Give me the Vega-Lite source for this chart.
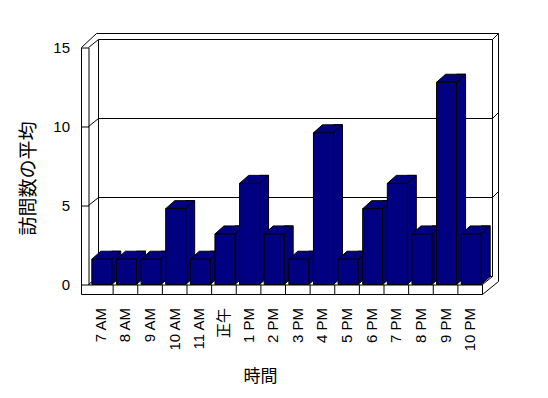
{
  "$schema": "https://vega.github.io/schema/vega-lite/v6.json",
  "width": 394,
  "height": 237,
  "autosize": "none",
  "padding": {"left": 88.5, "top": 47.5, "right": 65.5, "bottom": 113.5},
  "background": "white",
  "config": {
    "view": {"stroke": null},
    "axis": {
      "labelFont": "Liberation Sans, Noto Sans CJK JP",
      "labelFontSize": 15,
      "labelColor": "black",
      "titleFont": "Noto Sans CJK JP",
      "titleFontWeight": "normal",
      "titleColor": "black",
      "domainColor": "black",
      "tickColor": "black",
      "grid": false
    }
  },
  "resolve": {"scale": {"x": "independent"}},
  "layer": [
    {
      "data": {"values": [{}]},
      "layer": [
        {
          "data": {"values": [{"v": 0}, {"v": 5}, {"v": 10}, {"v": 15}]},
          "mark": {"type": "rule", "color": "black", "xOffset": 10, "x2Offset": 10, "yOffset": -8},
          "encoding": {
            "x": {"datum": 0, "type": "quantitative", "scale": {"domain": [0, 16]}, "axis": null},
            "x2": {"datum": 16},
            "y": {"field": "v", "type": "quantitative"}
          }
        },
        {
          "data": {"values": [{"v": 0}, {"v": 5}, {"v": 10}, {"v": 15}]},
          "mark": {"type": "rule", "color": "black", "x2Offset": 10, "y2Offset": -8},
          "encoding": {
            "x": {"datum": 0, "type": "quantitative", "scale": {"domain": [0, 16]}, "axis": null},
            "x2": {"datum": 0},
            "y": {"field": "v", "type": "quantitative"},
            "y2": {"field": "v"}
          }
        },
        {
          "data": {"values": [{"v": 5}, {"v": 10}, {"v": 15}]},
          "mark": {"type": "rule", "color": "black", "xOffset": 10, "yOffset": -8, "x2Offset": 16, "y2Offset": -14},
          "encoding": {
            "x": {"datum": 16, "type": "quantitative", "scale": {"domain": [0, 16]}, "axis": null},
            "x2": {"datum": 16},
            "y": {"field": "v", "type": "quantitative"},
            "y2": {"field": "v"}
          }
        },
        {
          "mark": {"type": "rule", "color": "black", "xOffset": 10, "yOffset": -8, "y2Offset": -8},
          "encoding": {
            "x": {"datum": 0, "type": "quantitative", "scale": {"domain": [0, 16]}, "axis": null},
            "y": {"datum": 0, "type": "quantitative"},
            "y2": {"datum": 15}
          }
        },
        {
          "mark": {"type": "rule", "color": "black", "xOffset": 10, "yOffset": -8, "y2Offset": -8},
          "encoding": {
            "x": {"datum": 16, "type": "quantitative", "scale": {"domain": [0, 16]}, "axis": null},
            "y": {"datum": 0, "type": "quantitative"},
            "y2": {"datum": 15}
          }
        },
        {
          "mark": {"type": "rule", "color": "black", "xOffset": 16, "yOffset": -3, "y2Offset": -14},
          "encoding": {
            "x": {"datum": 16, "type": "quantitative", "scale": {"domain": [0, 16]}, "axis": null},
            "y": {"datum": 0, "type": "quantitative"},
            "y2": {"datum": 15}
          }
        },
        {
          "mark": {"type": "rule", "color": "black", "xOffset": 8, "x2Offset": 16, "yOffset": -14},
          "encoding": {
            "x": {"datum": 0, "type": "quantitative", "scale": {"domain": [0, 16]}, "axis": null},
            "x2": {"datum": 16},
            "y": {"datum": 15, "type": "quantitative"}
          }
        },
        {
          "mark": {"type": "rule", "color": "black", "xOffset": -7, "x2Offset": 8, "y2Offset": -14},
          "encoding": {
            "x": {"datum": 0, "type": "quantitative", "scale": {"domain": [0, 16]}, "axis": null},
            "x2": {"datum": 0},
            "y": {"datum": 15, "type": "quantitative"},
            "y2": {"datum": 15}
          }
        },
        {
          "mark": {"type": "rule", "color": "black", "xOffset": -7, "yOffset": 10},
          "encoding": {
            "x": {"datum": 0, "type": "quantitative", "scale": {"domain": [0, 16]}, "axis": null},
            "y": {"datum": 0, "type": "quantitative"},
            "y2": {"datum": 15}
          }
        },
        {
          "mark": {"type": "rule", "color": "black", "xOffset": -7, "yOffset": 10},
          "encoding": {
            "x": {"datum": 0, "type": "quantitative", "scale": {"domain": [0, 16]}, "axis": null},
            "x2": {"datum": 16},
            "y": {"datum": 0, "type": "quantitative"}
          }
        },
        {
          "data": {"values": [{"k": 1}, {"k": 2}, {"k": 3}, {"k": 4}, {"k": 5}, {"k": 6}, {"k": 7}, {"k": 8}, {"k": 9}, {"k": 10}, {"k": 11}, {"k": 12}, {"k": 13}, {"k": 14}, {"k": 15}, {"k": 16}]},
          "mark": {"type": "rule", "color": "black", "y2Offset": 10},
          "encoding": {
            "x": {"field": "k", "type": "quantitative", "scale": {"domain": [0, 16]}, "axis": null},
            "y": {"datum": 0, "type": "quantitative"},
            "y2": {"datum": 0}
          }
        },
        {
          "mark": {"type": "rule", "color": "black", "yOffset": 10, "x2Offset": 16, "y2Offset": -3},
          "encoding": {
            "x": {"datum": 16, "type": "quantitative", "scale": {"domain": [0, 16]}, "axis": null},
            "x2": {"datum": 16},
            "y": {"datum": 0, "type": "quantitative"},
            "y2": {"datum": 0}
          }
        },
        {
          "mark": {"type": "rule", "color": "black", "x2Offset": 10, "y2Offset": -8},
          "encoding": {
            "x": {"datum": 16, "type": "quantitative", "scale": {"domain": [0, 16]}, "axis": null},
            "x2": {"datum": 16},
            "y": {"datum": 0, "type": "quantitative"},
            "y2": {"datum": 0}
          }
        }
      ]
    },
    {
      "data": {
        "values": [
          {"hour": "7 AM", "avg": 1.6},
          {"hour": "8 AM", "avg": 1.6},
          {"hour": "9 AM", "avg": 1.6},
          {"hour": "10 AM", "avg": 4.8},
          {"hour": "11 AM", "avg": 1.6},
          {"hour": "正午", "avg": 3.2},
          {"hour": "1 PM", "avg": 6.4},
          {"hour": "2 PM", "avg": 3.2},
          {"hour": "3 PM", "avg": 1.6},
          {"hour": "4 PM", "avg": 9.6},
          {"hour": "5 PM", "avg": 1.6},
          {"hour": "6 PM", "avg": 4.8},
          {"hour": "7 PM", "avg": 6.4},
          {"hour": "8 PM", "avg": 3.2},
          {"hour": "9 PM", "avg": 12.8},
          {"hour": "10 PM", "avg": 3.2}
        ]
      },
      "encoding": {
        "x": {
          "field": "hour",
          "type": "nominal",
          "sort": null,
          "scale": {"paddingInner": 0, "paddingOuter": 0},
          "axis": {
            "title": "時間",
            "titleFontSize": 17,
            "titleX": 171.5,
            "titleY": 91.5,
            "titleAlign": "center",
            "titleBaseline": "middle",
            "labelAngle": -90,
            "labelPadding": 23,
            "ticks": false,
            "domain": true
          }
        }
      },
      "layer": [
        {
          "mark": {"type": "bar", "width": 9, "xOffset": 15.5, "yOffset": -8, "y2Offset": -8, "color": "#000080", "stroke": "black", "strokeWidth": 1},
          "encoding": {
            "y": {
              "field": "avg",
              "type": "quantitative",
              "scale": {"domain": [0, 15], "nice": false},
              "axis": {
                "title": "訪問数の平均",
                "titleFontSize": 19,
                "titleAngle": 270,
                "titleX": -60.5,
                "titleY": 130.5,
                "titleAlign": "center",
                "titleBaseline": "middle",
                "values": [0, 5, 10, 15],
                "tickSize": 7,
                "labelPadding": 12,
                "domain": true
              }
            }
          }
        },
        {
          "mark": {"type": "point", "shape": "M10,-9L10,0L19,-8L19,-9", "size": 4, "filled": true, "fill": "#000080", "stroke": "black", "strokeWidth": 1, "opacity": 1, "xOffset": 1},
          "encoding": {
            "y": {"datum": 0, "type": "quantitative"}
          }
        },
        {
          "mark": {"type": "point", "shape": "M-10,0L10,0L19,-8L-1,-8Z", "size": 4, "filled": true, "fill": "#000080", "stroke": "black", "strokeWidth": 1, "opacity": 1, "xOffset": 1},
          "encoding": {
            "y": {"field": "avg", "type": "quantitative"}
          }
        },
        {
          "mark": {"type": "bar", "width": 20, "xOffset": 1, "color": "#000080", "stroke": "black", "strokeWidth": 1},
          "encoding": {
            "y": {"field": "avg", "type": "quantitative"}
          }
        }
      ]
    }
  ]
}
